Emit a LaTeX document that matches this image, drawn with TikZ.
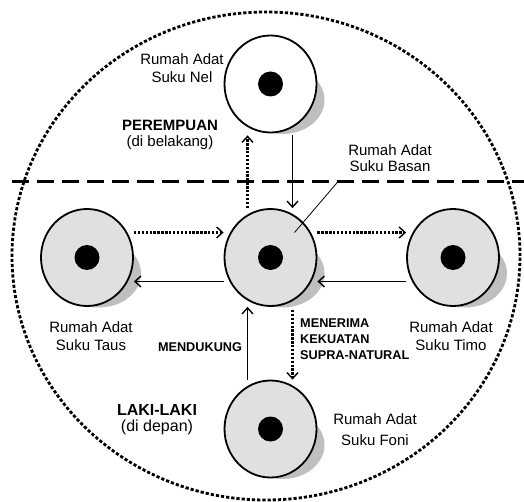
\documentclass[tikz,border=0pt]{standalone}
\usepackage{fontspec}
\setmainfont{Liberation Sans}
\usetikzlibrary{arrows.meta, shapes.geometric, backgrounds}

\begin{document}
\begin{tikzpicture}[x=1pt, y=-1pt,
    house/.style={draw, ellipse, line width=1.8pt, minimum width=92pt, minimum height=97pt, inner sep=0pt, fill=black!12,
        path picture={\fill[black] (path picture bounding box.center) circle (12.5pt);}},
    lbl/.style={align=center, inner sep=0pt, font=\fontsize{15}{18}\selectfont},
    tag/.style={align=left, inner sep=0pt, font=\fontsize{12.7}{16}\selectfont\bfseries},
    solidarr/.style={-{Straight Barb[length=6pt, width=11pt, line width=1.4pt]}, line width=1.4pt},
    dotarr/.style={solidarr, line width=2.4pt, dash pattern=on 2.4pt off 1.5pt}
]
\useasboundingbox (0,0) rectangle (524,502);

% outer boundary and front/back divider
\draw[line width=2.8pt, dash pattern=on 3.2pt off 2pt] (266,256) ellipse (254pt and 244pt);
\draw[line width=3pt, dash pattern=on 17pt off 8pt] (12,182) -- (524,182);

\node[house, fill=white] (nel) at (270.5,84) {};
\node[house] (bas)  at (270.5,257.5) {};
\node[house] (taus) at (87,257.5) {};
\node[house] (timo) at (453,257.5) {};
\node[house] (foni) at (270.5,429) {};

\begin{scope}[on background layer]
\foreach \n in {nel, bas, taus, timo, foni}
    \fill[black!25] ([xshift=12pt, yshift=-16pt]\n.center) ellipse (42pt and 34pt);
\end{scope}

\node[lbl] (nellbl) at (182,68.6) {Rumah Adat\\Suku Nel};
\node[lbl, font=\fontsize{15}{16}\selectfont] (perem) at (170,135) {\textbf{PEREMPUAN}\\(di belakang)};
\node[lbl, font=\fontsize{15}{15.5}\selectfont] (baslbl) at (390,158) {Rumah Adat\\Suku Basan};
\node[lbl] (tauslbl) at (91,336.6) {Rumah Adat\\Suku Taus};
\node[lbl] (timolbl) at (451,336.6) {Rumah Adat\\Suku Timo};
\node[lbl, font=\fontsize{15}{21}\selectfont] (fonilbl) at (375,430) {Rumah Adat\\Suku Foni};
\node[tag, anchor=base] (dukung) at (200,351) {MENDUKUNG};
\node[tag, anchor=west] (terima) at (300,339.5) {MENERIMA\\KEKUATAN\\SUPRA-NATURAL};
\node[lbl, font=\fontsize{16}{16}\selectfont] (laki) at (157,420) {\textbf{LAKI-LAKI}\\(di depan)};

\draw[dotarr] ([xshift=-23pt]bas.north) -- ([xshift=-23pt, yshift=-2pt]nel.south);
\draw[solidarr] ([xshift=22pt, yshift=-2pt]nel.south) -- ([xshift=22pt]bas.north);
\draw[dotarr] ([yshift=25pt]taus.east) -- ([yshift=25pt]bas.west);
\draw[dotarr] ([yshift=25pt]bas.east) -- ([yshift=25pt]timo.west);
\draw[solidarr] ([yshift=-24pt]timo.west) -- ([yshift=-24pt]bas.east);
\draw[solidarr] ([yshift=-24pt]bas.west) -- ([yshift=-24pt]taus.east);
\draw[solidarr] ([xshift=-23pt]foni.north) -- ([xshift=-23pt]bas.south);
\draw[dotarr] ([xshift=22pt, yshift=-3pt]bas.south) -- ([xshift=22pt]foni.north);
\draw[line width=0.8pt] ([xshift=24pt, yshift=25pt]bas.center) -- ([xshift=-10pt, yshift=-10pt]baslbl.south west);
\end{tikzpicture}
\end{document}
